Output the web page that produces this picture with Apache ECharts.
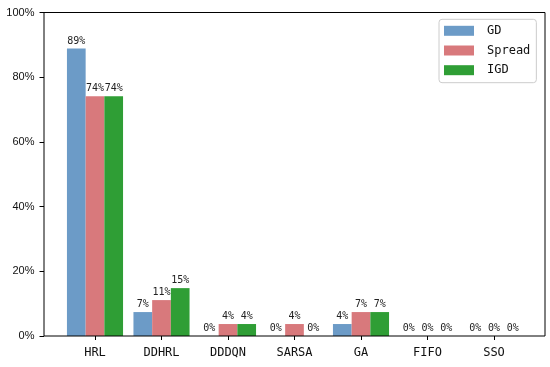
<!DOCTYPE html>
<html><head><meta charset="utf-8">
<script src="https://cdn.jsdelivr.net/npm/echarts@6/dist/echarts.min.js"></script>
<style>html,body{margin:0;padding:0;background:#fff}#c{width:550px;height:367px}</style>
</head><body><div id="c"></div>
<script>
const categories = ['HRL','DDHRL','DDDQN','SARSA','GA','FIFO','SSO'];
const gdValues = [88.9, 7.4, 0, 0, 3.7, 0, 0];
const spreadValues = [74.1, 11.1, 3.7, 3.7, 7.4, 0, 0];
const igdValues = [74.1, 14.8, 3.7, 0, 7.4, 0, 0];
const yTicks = [0, 20, 40, 60, 80, 100];

const mono = 'DejaVu Sans Mono';
const chart = echarts.init(document.getElementById('c'), null, {renderer:'canvas'});
function mk(name, data, color){
  return {
    name, type:'bar', data, xAxisIndex:1, yAxisIndex:1,
    barWidth:18.7, barGap:'0%',
    itemStyle:{color},
    label:{show:true, position:'top', distance:2.5, fontFamily:mono, fontSize:10, color:'#222',
      formatter:p=>Math.round(p.value)+'%'}
  };
}
chart.setOption({
  animation:false,
  grid:[
    {left:44, right:5, top:12.5, bottom:31, show:true, borderColor:'#000', borderWidth:1, backgroundColor:'transparent', z:3},
    {left:61.75, right:22.75, top:12.5, bottom:31}
  ],
  xAxis:[
    {gridIndex:0, type:'value', show:false, min:0, max:1},
    {gridIndex:1, type:'category', data:categories,
      axisLine:{show:false},
      axisTick:{show:true, alignWithLabel:true, length:4, lineStyle:{color:'#000'}},
      axisLabel:{fontFamily:mono, fontSize:12, color:'#111', margin:11}}
  ],
  yAxis:[
    {gridIndex:0, type:'value', show:false, min:0, max:1},
    {gridIndex:1, type:'value', min:yTicks[0], max:yTicks[yTicks.length-1], interval:yTicks[1]-yTicks[0],
      offset:17.75,
      axisLine:{show:false},
      axisTick:{show:true, length:4.5, lineStyle:{color:'#000'}},
      splitLine:{show:false},
      axisLabel:{fontFamily:'Liberation Sans', fontSize:11, color:'#111', margin:9.5, formatter:'{value}%'}}
  ],
  legend:{
    orient:'vertical', left:439, top:19.3,
    padding:[5.5,6,6.5,5], itemWidth:30, itemHeight:10, itemGap:7.7,
    borderColor:'#cccccc', borderWidth:1, borderRadius:3, backgroundColor:'#fff',
    icon:'rect',
    textStyle:{fontFamily:mono, fontSize:12, color:'#111', padding:[0,0,0,8]},
    data:['GD','Spread','IGD']
  },
  series:[
    mk('GD', gdValues, '#6C9BC7'),
    mk('Spread', spreadValues, '#D8797C'),
    mk('IGD', igdValues, '#2F9E35')
  ]
});
</script></body></html>
